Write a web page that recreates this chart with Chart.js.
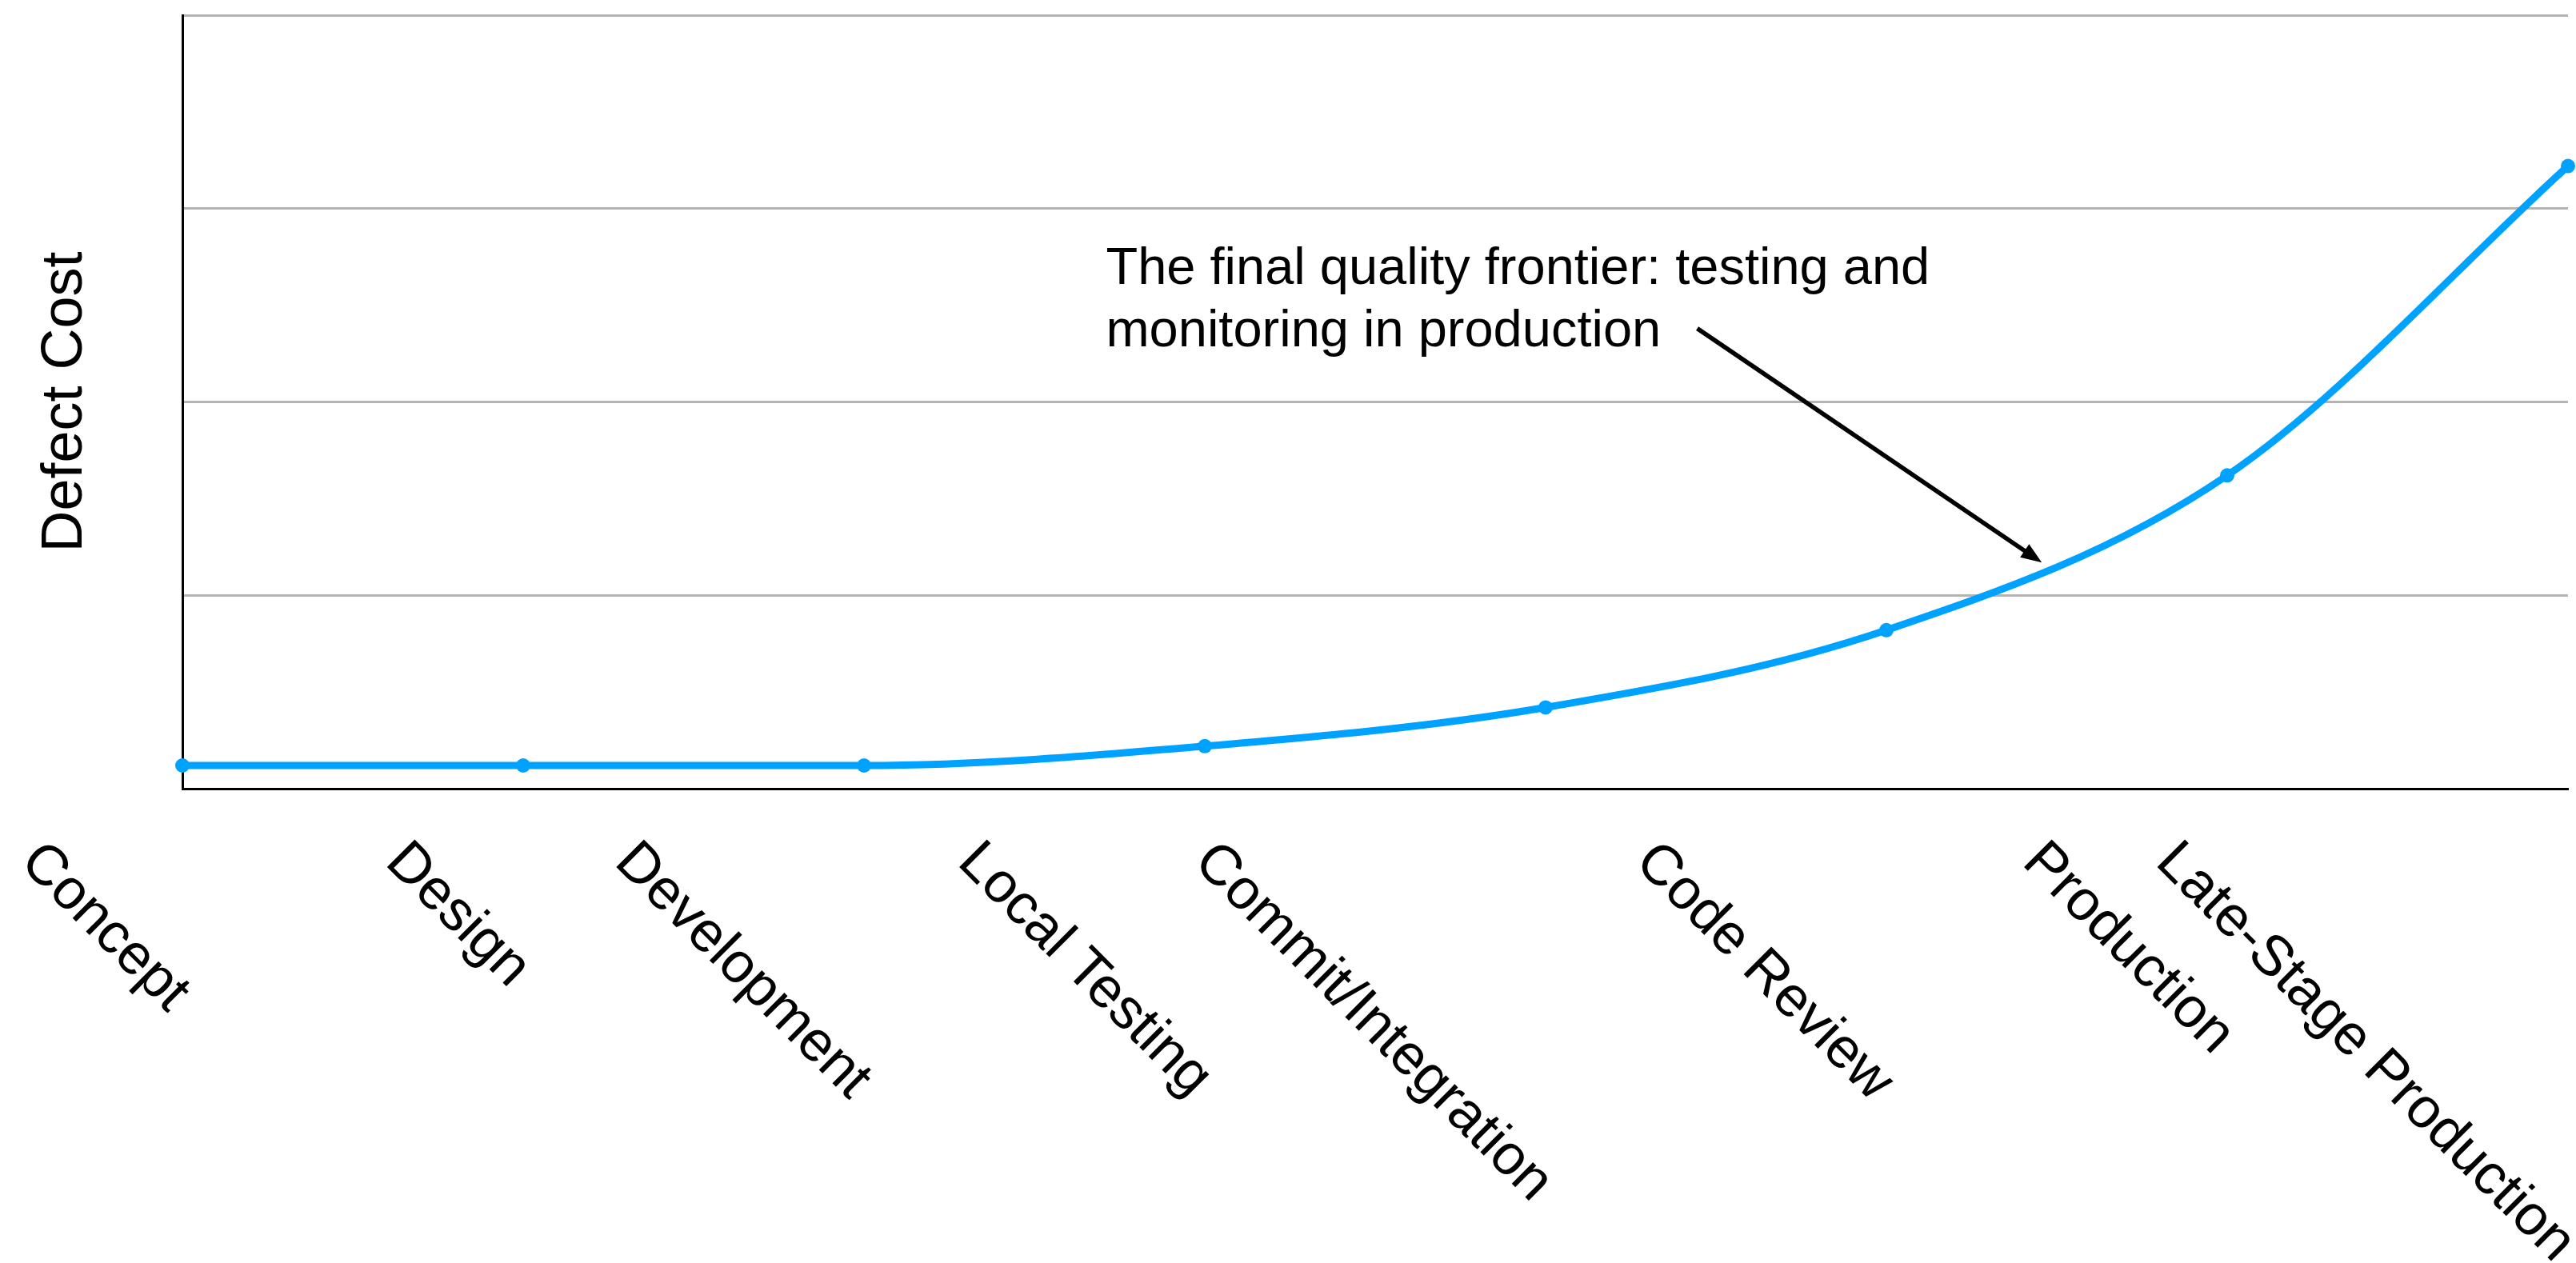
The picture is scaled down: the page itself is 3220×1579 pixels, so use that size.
<!DOCTYPE html>
<html>
<head>
<meta charset="utf-8">
<title>Defect Cost</title>
<script src="https://cdn.jsdelivr.net/npm/chart.js@4.4.1/dist/chart.umd.min.js"></script>
<style>
    html, body { margin: 0; padding: 0; background: #fff; }
    #wrap { width: 3220px; height: 1579px; position: relative; }
</style>
</head>
<body>
<div id="wrap"><canvas id="defectCost"></canvas></div>
<script>
const blue = "#00a2ff";
const gridGray = "#b4b4b4";
const fontFamily = "'Liberation Sans', Arial, sans-serif";

const stages = ["Concept", "Design", "Development", "Local Testing", "Commit/Integration", "Code Review", "Production", "Late-Stage Production"];
const defectCost = [12, 12, 12, 22, 42, 82, 162, 322];
const yTicks = [0, 100, 200, 300, 400];

// callout, placed in data units (stage index, cost)
const noteLines = ["The final quality frontier: testing and", "monitoring in production"];
const noteAt = [2.71, 261];
const arrowFrom = [4.445, 238];
const arrowTo = [5.456, 117];

// rotated stage names under the axis, text running down to the right
const stageLabels = {
    id: "stageLabels",
    afterDraw(chart) {
        const ctx = chart.ctx;
        const xs = chart.scales.x;
        const angle = Math.PI / 4;
        const size = 71;
        const capHeight = 0.716 * size;
        ctx.save();
        ctx.font = size + "px " + fontFamily;
        ctx.fillStyle = "#000";
        ctx.textBaseline = "alphabetic";
        ctx.textAlign = "left";
        stages.forEach((label, i) => {
            const w = ctx.measureText(label).width;
            const px = xs.getPixelForValue(i);
            ctx.save();
            ctx.translate(px + 18 - (w + capHeight) * Math.cos(angle), xs.bottom + 94);
            ctx.rotate(angle);
            ctx.fillText(label, 0, 0);
            ctx.restore();
        });
        ctx.restore();
    }
};

const callout = {
    id: "callout",
    afterDraw(chart) {
        const ctx = chart.ctx;
        const xs = chart.scales.x;
        const ys = chart.scales.y;
        ctx.save();
        ctx.font = "65px " + fontFamily;
        ctx.fillStyle = "#000";
        ctx.textBaseline = "alphabetic";
        const tx = xs.getPixelForValue(noteAt[0]);
        const ty = ys.getPixelForValue(noteAt[1]);
        noteLines.forEach((line, i) => ctx.fillText(line, tx, ty + i * 78));

        const x1 = xs.getPixelForValue(arrowFrom[0]);
        const y1 = ys.getPixelForValue(arrowFrom[1]);
        const x2 = xs.getPixelForValue(arrowTo[0]);
        const y2 = ys.getPixelForValue(arrowTo[1]);
        const a = Math.atan2(y2 - y1, x2 - x1);
        const head = 26;
        ctx.strokeStyle = "#000";
        ctx.lineWidth = 5.5;
        ctx.beginPath();
        ctx.moveTo(x1, y1);
        ctx.lineTo(x2 - head * 0.8 * Math.cos(a), y2 - head * 0.8 * Math.sin(a));
        ctx.stroke();
        ctx.beginPath();
        ctx.moveTo(x2, y2);
        ctx.lineTo(x2 - head * Math.cos(a) + 10 * Math.sin(a), y2 - head * Math.sin(a) - 10 * Math.cos(a));
        ctx.lineTo(x2 - head * Math.cos(a) - 10 * Math.sin(a), y2 - head * Math.sin(a) + 10 * Math.cos(a));
        ctx.closePath();
        ctx.fill();
        ctx.restore();
    }
};

const ctx = document.getElementById("defectCost");

const chart = new Chart(ctx, {
    type: "line",
    data: {
        labels: stages,
        datasets: [{
            data: defectCost,
            borderColor: blue,
            backgroundColor: blue,
            borderWidth: 9,
            cubicInterpolationMode: "monotone",
            pointRadius: 9,
            pointBorderWidth: 0,
            pointBackgroundColor: blue,
        }],
    },
    options: {
        responsive: true,
        maintainAspectRatio: false,
        animation: false,
        layout: {
            autoPadding: false,
            padding: { top: 19, right: 10, bottom: 593, left: 0 },
        },
        plugins: {
            legend: { display: false },
            tooltip: { enabled: false },
        },
        scales: {
            x: {
                type: "category",
                offset: false,
                grid: { display: false, drawTicks: false },
                ticks: { display: false },
                border: { color: "#000", width: 3 },
            },
            y: {
                min: yTicks[0],
                max: yTicks[yTicks.length - 1],
                ticks: { display: false, stepSize: yTicks[1] - yTicks[0] },
                grid: {
                    drawTicks: false,
                    lineWidth: 3,
                    color: (c) => (c.tick && c.tick.value === 0 ? "#000" : gridGray),
                },
                border: { color: "#000", width: 3 },
                title: {
                    display: true,
                    text: "Defect Cost",
                    color: "#000",
                    font: { family: fontFamily, size: 72, lineHeight: 1 },
                    padding: { top: 46, bottom: 110 },
                },
            },
        },
    },
    plugins: [stageLabels, callout],
});
</script>
</body>
</html>
